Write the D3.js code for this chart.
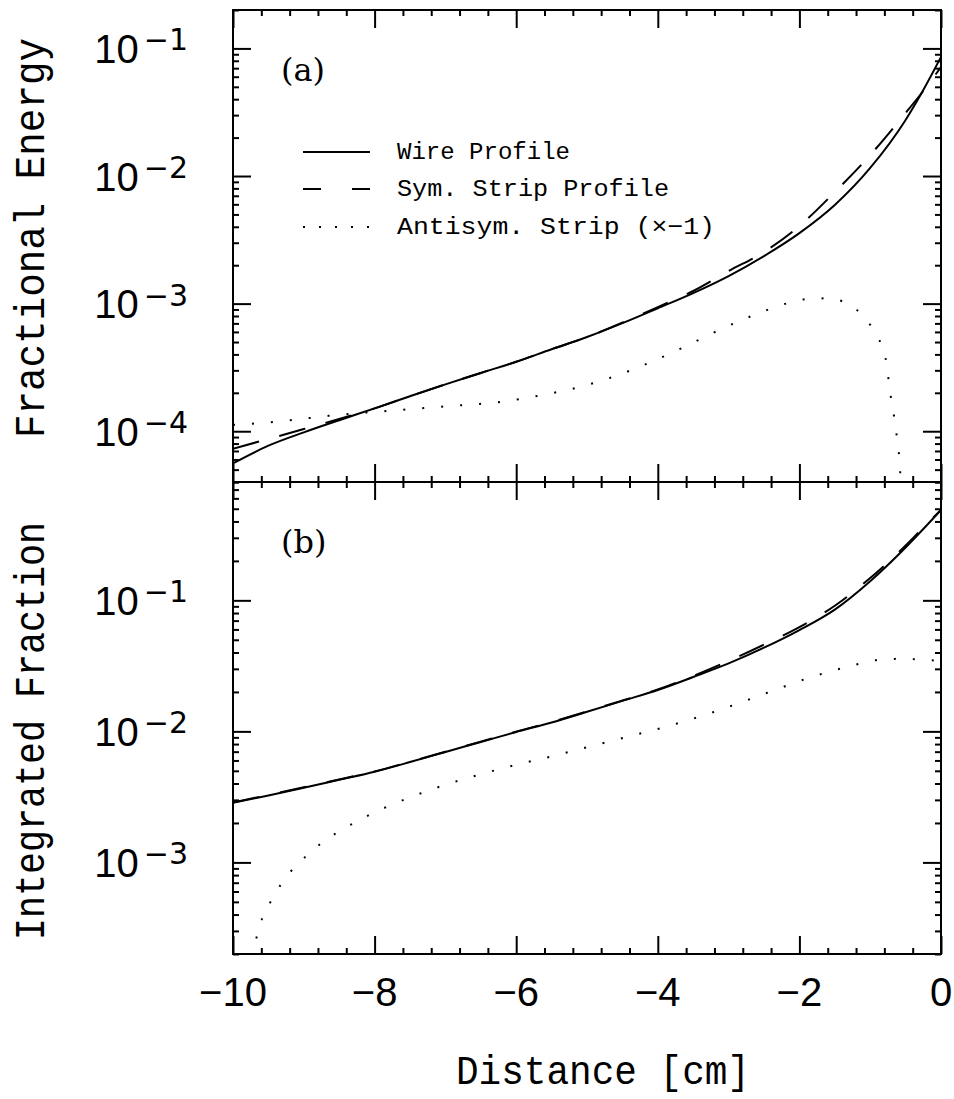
<!DOCTYPE html>
<html>
<head>
<meta charset="utf-8">
<script src="https://cdn.jsdelivr.net/npm/d3@7"></script>
<style>
  body { margin: 0; background: #fff; }
  svg { display: block; }
</style>
</head>
<body>
<script>
'use strict';

// distance grid shared by the wire and symmetric strip curves [cm]
let distGrid = [-10, -9.5, -9, -8.5, -8, -7.5, -7, -6.5, -6, -5.5, -5, -4.5, -4, -3.5, -3, -2.5, -2, -1.5, -1, -0.5, -0.25, 0];

// panel (a): fractional energy
let wireA = [5.6e-5, 7.7e-5, 9.8e-5, 1.22e-4, 1.51e-4, 1.88e-4, 2.33e-4, 2.86e-4, 3.5e-4, 4.39e-4, 5.47e-4, 7.03e-4, 9.2e-4, 1.21e-3, 1.645e-3, 2.36e-3, 3.57e-3, 5.93e-3, 1.156e-2, 2.75e-2, 4.72e-2, 8.57e-2];
let symA  = [7.3e-5, 8.7e-5, 1.04e-4, 1.25e-4, 1.51e-4, 1.88e-4, 2.33e-4, 2.86e-4, 3.5e-4, 4.39e-4, 5.47e-4, 7.1e-4, 9.4e-4, 1.256e-3, 1.80e-3, 2.54e-3, 4.06e-3, 7.49e-3, 1.46e-2, 3.12e-2, 4.64e-2, 7.15e-2];
let antiDistA = [-10, -9.73, -9.19, -8.65, -7.84, -7.03, -6.22, -5.68, -5.15, -4.63, -4.13, -3.63, -3.14, -2.65, -2.13, -1.87, -1.6, -1.34, -1.12, -0.96, -0.835, -0.766, -0.733, -0.695, -0.65, -0.617, -0.586, -0.57, -0.55];
let antiA = [1.12e-4, 1.145e-4, 1.22e-4, 1.32e-4, 1.44e-4, 1.56e-4, 1.70e-4, 1.90e-4, 2.19e-4, 2.67e-4, 3.42e-4, 4.57e-4, 6.18e-4, 8.1e-4, 1.02e-3, 1.09e-3, 1.10e-3, 1.01e-3, 8.2e-4, 6.3e-4, 4.6e-4, 3.3e-4, 2.34e-4, 1.66e-4, 1.18e-4, 8.4e-5, 5.9e-5, 4.2e-5, 3.0e-5];

// panel (b): integrated fraction
let wireB = [2.85e-3, 3.24e-3, 3.71e-3, 4.27e-3, 4.92e-3, 5.83e-3, 6.97e-3, 8.3e-3, 9.9e-3, 1.17e-2, 1.41e-2, 1.71e-2, 2.07e-2, 2.6e-2, 3.3e-2, 4.35e-2, 5.93e-2, 8.5e-2, 0.14, 0.253, 0.35, 0.489];
let symB  = [2.87e-3, 3.27e-3, 3.74e-3, 4.3e-3, 4.95e-3, 5.86e-3, 7.0e-3, 8.35e-3, 9.95e-3, 1.18e-2, 1.42e-2, 1.72e-2, 2.09e-2, 2.65e-2, 3.45e-2, 4.6e-2, 6.25e-2, 9.1e-2, 0.148, 0.262, 0.36, 0.489];
let antiDistB = [-9.74, -9.661, -9.585, -9.456, -9.322, -9.155, -8.963, -8.753, -8.53, -8.292, -8.049, -7.557, -7.045, -6.527, -6.003, -5.472, -4.948, -4.424, -3.898, -3.381, -2.869, -2.357, -1.846, -1.328, -0.797, -0.528, -0.26, 0];
let antiB = [1.9e-4, 2.75e-4, 3.78e-4, 5.13e-4, 6.8e-4, 8.9e-4, 1.12e-3, 1.40e-3, 1.69e-3, 2.0e-3, 2.34e-3, 3.05e-3, 3.84e-3, 4.66e-3, 5.56e-3, 6.5e-3, 7.7e-3, 9.1e-3, 1.08e-2, 1.31e-2, 1.63e-2, 2.06e-2, 2.58e-2, 3.1e-2, 3.55e-2, 3.58e-2, 3.52e-2, 3.45e-2];

// axis labels and legend
let xTickLabels = ['\u221210', '\u22128', '\u22126', '\u22124', '\u22122', '0'];
let legendLabels = ['Wire Profile', 'Sym. Strip Profile', 'Antisym. Strip (\u00d7\u22121)'];

let svgWidth = 954, svgHeight = 1099;
let left = 233, right = 941;
let dashes = ['none', '27,21', '2,17'];

let svg = d3.select('body').append('svg')
  .attr('width', svgWidth)
  .attr('height', svgHeight);

let x = d3.scaleLinear().domain([-10, 0]).range([left, right]);
let yA = d3.scaleLog().domain([4e-5, 0.2]).range([482, 10]);
let yB = d3.scaleLog().domain([2e-4, 0.8]).range([954, 482]);

let xMajor = d3.range(-10, 1, 2);
let xMinor = d3.range(0, 26).map(i => -10 + i * 0.4).filter(v => !xMajor.some(m => Math.abs(m - v) < 1e-6));

function isMajor(v) {
  let l = Math.log10(v);
  return Math.abs(l - Math.round(l)) < 1e-9;
}

// tick marks through d3.axis, domain line removed (frame drawn separately)
function ticks(axis, vals, size, tx, ty) {
  svg.append('g')
    .attr('transform', `translate(${tx},${ty})`)
    .call(axis.tickValues(vals).tickSize(size).tickFormat(''))
    .call(g => g.select('.domain').remove())
    .selectAll('line').attr('stroke', '#000').attr('stroke-width', 2);
}

function drawPanel(name, y, series) {
  let top = y.range()[1], bottom = y.range()[0];

  svg.append('clipPath').attr('id', 'clip-' + name)
    .append('rect')
    .attr('x', left).attr('y', top)
    .attr('width', right - left).attr('height', bottom - top);

  let plot = svg.append('g').attr('clip-path', `url(#clip-${name})`);
  let lineGen = d3.line().curve(d3.curveMonotoneX).x(d => x(d[0])).y(d => y(d[1]));

  series.forEach((s, i) => {
    plot.append('path')
      .datum(s.dist.map((d, j) => [d, s.vals[j]]))
      .attr('fill', 'none')
      .attr('stroke', '#000')
      .attr('stroke-width', 2)
      .attr('stroke-dasharray', dashes[i])
      .attr('d', lineGen);
  });

  let yt = y.ticks();
  let yMajor = yt.filter(isMajor), yMinor = yt.filter(v => !isMajor(v));

  ticks(d3.axisRight(y), yMajor, 18, left, 0);
  ticks(d3.axisRight(y), yMinor, 6, left, 0);
  ticks(d3.axisLeft(y), yMajor, 18, right, 0);
  ticks(d3.axisLeft(y), yMinor, 6, right, 0);
  ticks(d3.axisBottom(x), xMajor, 18, 0, top);
  ticks(d3.axisBottom(x), xMinor, 6, 0, top);
  ticks(d3.axisTop(x), xMajor, 18, 0, bottom);
  ticks(d3.axisTop(x), xMinor, 6, 0, bottom);

  // y labels as 10^n
  yMajor.forEach(v => {
    let e = Math.round(Math.log10(v));
    let t = svg.append('text')
      .attr('x', 188)
      .attr('y', y(v) + 14.5)
      .attr('text-anchor', 'end')
      .attr('font-family', '"Liberation Sans", Arial, sans-serif')
      .attr('font-size', 40)
      .text('10');
    t.append('tspan')
      .attr('dx', 5)
      .attr('dy', -12.5)
      .attr('font-family', '"DejaVu Sans", sans-serif')
      .attr('font-size', 30)
      .text('\u2212' + Math.abs(e));
  });

  svg.append('rect')
    .attr('x', left).attr('y', top)
    .attr('width', right - left).attr('height', bottom - top)
    .attr('fill', 'none').attr('stroke', '#000').attr('stroke-width', 2);

  svg.append('text')
    .attr('x', 281)
    .attr('y', top + 71)
    .attr('font-family', '"DejaVu Serif", serif')
    .attr('font-size', 32)
    .text('(' + name + ')');
}

drawPanel('a', yA, [
  { dist: distGrid, vals: wireA },
  { dist: distGrid, vals: symA },
  { dist: antiDistA, vals: antiA }
]);

drawPanel('b', yB, [
  { dist: distGrid, vals: wireB },
  { dist: distGrid, vals: symB },
  { dist: antiDistB, vals: antiB }
]);

// x tick labels
svg.selectAll('.xlab').data(xMajor).enter().append('text')
  .attr('class', 'xlab')
  .attr('x', d => x(d))
  .attr('y', 1006)
  .attr('text-anchor', 'middle')
  .attr('font-family', '"Liberation Sans", Arial, sans-serif')
  .attr('font-size', 40)
  .text((d, i) => xTickLabels[i]);

// axis titles
let monoFont = '"Liberation Mono", "DejaVu Sans Mono", monospace';

svg.append('text')
  .attr('x', 603).attr('y', 1084)
  .attr('text-anchor', 'middle')
  .attr('font-family', monoFont)
  .attr('font-size', 40)
  .attr('textLength', 294).attr('lengthAdjust', 'spacingAndGlyphs')
  .text('Distance [cm]');

svg.append('text')
  .attr('transform', 'translate(44,238) rotate(-90)')
  .attr('text-anchor', 'middle')
  .attr('font-family', monoFont)
  .attr('font-size', 42)
  .attr('textLength', 400).attr('lengthAdjust', 'spacingAndGlyphs')
  .text('Fractional Energy');

svg.append('text')
  .attr('transform', 'translate(44,731) rotate(-90)')
  .attr('text-anchor', 'middle')
  .attr('font-family', monoFont)
  .attr('font-size', 42)
  .attr('textLength', 418).attr('lengthAdjust', 'spacingAndGlyphs')
  .text('Integrated Fraction');

// legend
let legendY = [152, 189, 227];
let legendW = [173, 272, 318];
let legendDash = ['none', '18,31', '2,14'];

legendLabels.forEach((lab, i) => {
  svg.append('line')
    .attr('x1', 303).attr('x2', 370)
    .attr('y1', legendY[i]).attr('y2', legendY[i])
    .attr('stroke', '#000').attr('stroke-width', 2)
    .attr('stroke-dasharray', legendDash[i]);
  svg.append('text')
    .attr('x', 397).attr('y', legendY[i] + 7)
    .attr('font-family', monoFont)
    .attr('font-size', 24)
    .attr('textLength', legendW[i]).attr('lengthAdjust', 'spacingAndGlyphs')
    .text(lab);
});
</script>
</body>
</html>
